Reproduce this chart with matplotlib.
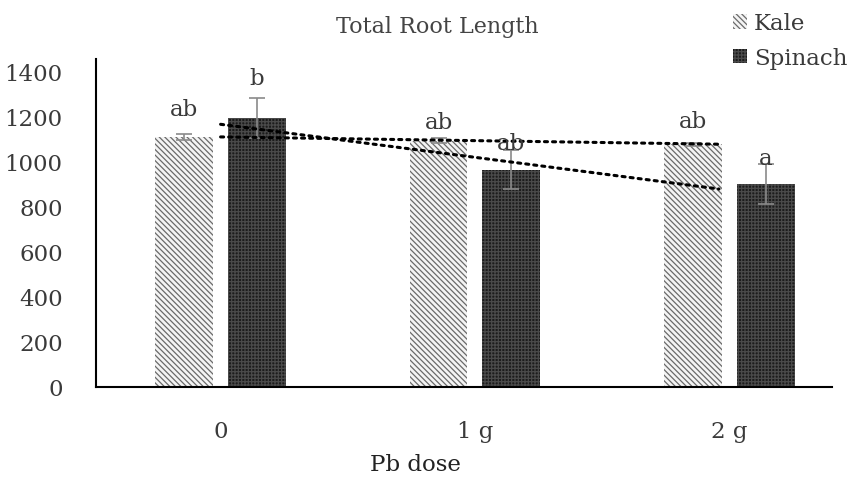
import matplotlib
matplotlib.use("Agg")
import matplotlib.pyplot as plt
import numpy as np

# data
doses = ["0", "1 g", "2 g"]
kale = [1110, 1093, 1077]
kale_err = [12, 10, 8]
spinach = [1193, 965, 900]
spinach_err = [90, 88, 88]
kale_letters = ["ab", "ab", "ab"]
spinach_letters = ["b", "ab", "a"]

plt.rcParams['font.family'] = ['DejaVu Serif']
plt.rcParams['hatch.linewidth'] = 0.9

fig = plt.figure(figsize=(8.57, 4.85), dpi=100)
ax = fig.add_axes([0.112, 0.2, 0.859, 0.676])

x = np.arange(len(doses))
w = 0.228
off = 0.143

ax.bar(x - off, kale, w, color="#f4f4f4", edgecolor="#6a6a6a", hatch="\\\\\\\\\\\\",
       linewidth=0, label="Kale")
ax.bar(x + off, spinach, w, color="#1c1c1c", edgecolor="#4a4a4a", hatch="+++++",
       linewidth=0, label="Spinach")
ax.errorbar(x - off, kale, yerr=kale_err, fmt="none", ecolor="#8a8a8a",
            elinewidth=1.2, capsize=6, capthick=1.2)
ax.errorbar(x + off, spinach, yerr=spinach_err, fmt="none", ecolor="#8a8a8a",
            elinewidth=1.2, capsize=6, capthick=1.2)

# linear trendlines
xt = np.array([0, 1.96])
for vals in (kale, spinach):
    k, b = np.polyfit(x, vals, 1)
    ax.plot(xt, k * xt + b, color="black", linestyle=":", linewidth=2.2,
            dash_capstyle="round")

# significance letters (offsets above bar tops)
kale_pad = [125, 85, 105]
spin_pad = [180, 120, 115]
for i in range(len(doses)):
    ax.text(x[i] - off, kale[i] + kale_pad[i], kale_letters[i], ha="center",
            va="center", fontsize=16.5, color="#3a3a3a")
    ax.text(x[i] + off, spinach[i] + spin_pad[i], spinach_letters[i], ha="center",
            va="center", fontsize=16.5, color="#3a3a3a")

ax.set_xlim(-0.49, 2.405)
ax.set_ylim(0, 1455)
ax.set_yticks(range(0, 1401, 200))
ax.set_xticks(x)
ax.set_xticklabels(doses)
ax.tick_params(axis="both", length=0, labelsize=16.5, colors="#3a3a3a")
ax.tick_params(axis="y", pad=24)
ax.tick_params(axis="x", pad=24)
for s in ("top", "right"):
    ax.spines[s].set_visible(False)
for s in ("left", "bottom"):
    ax.spines[s].set_linewidth(1.5)
    ax.spines[s].set_color("black")

fig.text(0.485, 0.042, "Pb dose", ha="center", va="center",
         fontsize=16.5, color="#222222")
fig.text(0.51, 0.945, "Total Root Length", ha="center", va="center",
         fontsize=16, color="#444444")

fig.legend(loc="upper right", bbox_to_anchor=(1.01, 1.01), frameon=False,
           fontsize=16.5, handlelength=0.6, handleheight=0.6, handletextpad=0.3,
           labelspacing=0.55, borderpad=0.3, labelcolor="#3a3a3a")

fig.savefig("out.png", dpi=100)
